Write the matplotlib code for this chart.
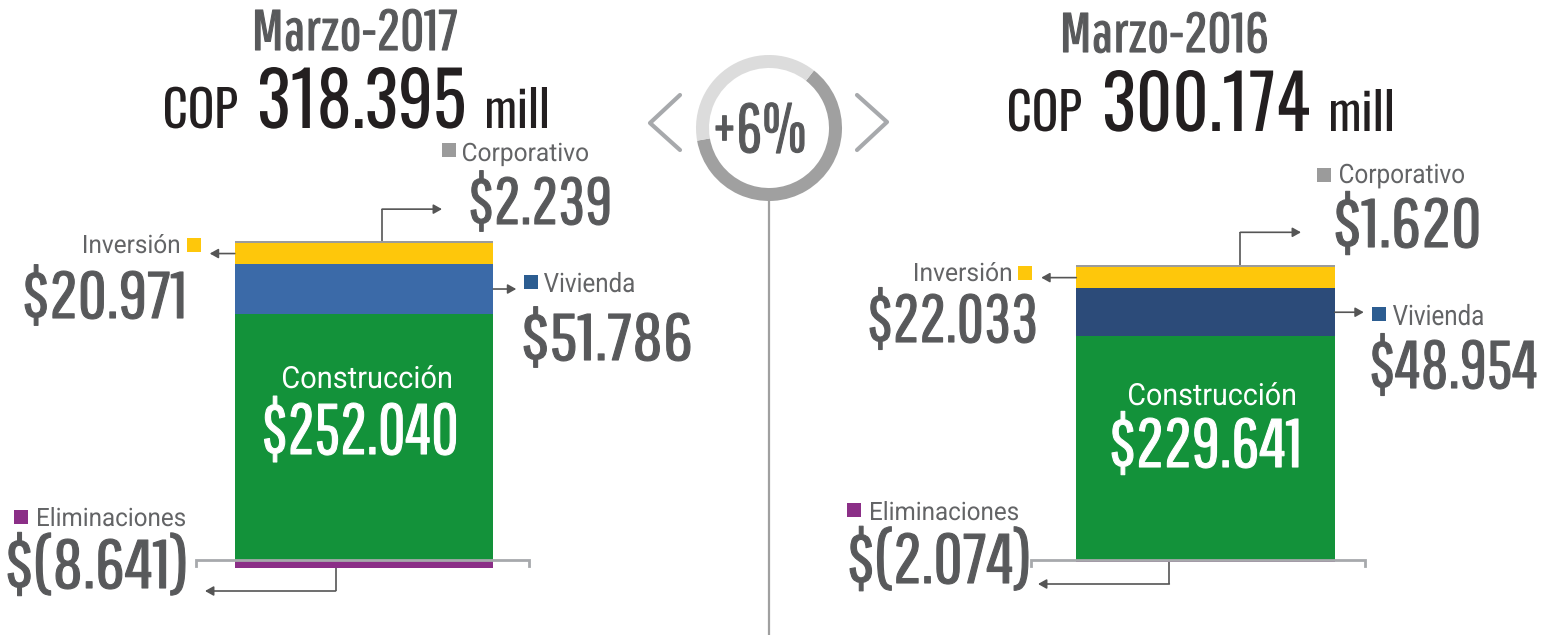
import matplotlib
matplotlib.use('Agg')
import matplotlib.pyplot as plt
from matplotlib.patches import Rectangle, Wedge
from matplotlib.patheffects import AbstractPathEffect
from matplotlib.transforms import Affine2D, Bbox
from matplotlib.text import Text
from matplotlib.textpath import TextPath
from matplotlib.font_manager import FontProperties

# ---------------- data ----------------
periods = ['Marzo-2017', 'Marzo-2016']
totals = [318.395, 300.174]
change_label = '+6%'
segments = ['Construcción', 'Vivienda', 'Inversión', 'Corporativo']
values_2017 = [252.040, 51.786, 20.971, 2.239]
values_2016 = [229.641, 48.954, 22.033, 1.620]
elim_label = 'Eliminaciones'
elim_values = [-8.641, -2.074]
currency = 'COP'
unit = 'mill'

values = [values_2017, values_2016]
seg_colors = [['#13923a', '#3b6aa8', '#fec70b', '#9b9b9b'],
              ['#13923a', '#2c4b79', '#fec70b', '#9b9b9b']]
legend_colors = {'Vivienda': '#2c5d91', 'Inversión': '#fec70b',
                 'Corporativo': '#9b9b9b', 'Eliminaciones': '#8b2f87'}
elim_color = '#8b2f87'

C_TITLE = '#58595b'
C_TOTAL = '#231f20'
C_VAL = '#58595b'
C_LBL = '#636466'
C_LINE = '#555555'
C_GREY = '#a7a9ac'
F_NUM = ['Pathway Gothic One', 'Roboto']
F_TOT = ['Oswald', 'Roboto']
F_LBL = ['Roboto']


def money(v):
    s = f'{abs(v):.3f}'
    return f'$({s})' if v < 0 else f'${s}'


class Squeeze(AbstractPathEffect):
    """Horizontally scale glyphs about the ink's left edge (optionally embolden)."""
    def __init__(self, sx, stroke=0.0):
        super().__init__()
        self.sx = sx
        self.stroke = stroke

    def draw_path(self, renderer, gc, tpath, affine, rgbFace=None):
        a = tpath.get_extents().x0
        pre = Affine2D().translate(-a, 0).scale(self.sx, 1).translate(a, 0)
        if self.stroke > 0 and rgbFace is not None:
            gc0 = renderer.new_gc()
            gc0.copy_properties(gc)
            gc0.set_linewidth(self.stroke)
            gc0.set_foreground(rgbFace)
            gc0.set_joinstyle('round')
            renderer.draw_path(gc0, tpath, pre + affine, rgbFace)
            gc0.restore()
        else:
            renderer.draw_path(gc, tpath, pre + affine, rgbFace)


class CondensedText(Text):
    """Text whose reported extent matches its scaled rendering."""
    def get_window_extent(self, renderer=None, dpi=None):
        bb = super().get_window_extent(renderer, dpi)
        sx = getattr(self, '_sx', 1.0)
        a = bb.x0
        return Bbox([[a, bb.y0], [a + (bb.x1 - a) * sx, bb.y1]])


W, H = 1554, 635
fig = plt.figure(figsize=(W / 100, H / 100), dpi=100)
fig.patch.set_facecolor('white')

# bar axes (data units)
PX_PER_UNIT = 0.975
BASE_PX = 75  # baseline distance from bottom in px
bar_centers_px = [364, 1205.5]
spacing = bar_centers_px[1] - bar_centers_px[0]
bar_w = 258.5 / spacing
ax = fig.add_axes([0, 0, 1, 1])
ax.set_xlim(-bar_centers_px[0] / spacing, (W - bar_centers_px[0]) / spacing)
ax.set_ylim(-BASE_PX / PX_PER_UNIT, (H - BASE_PX) / PX_PER_UNIT)
ax.axis('off')

xpos = [0, 1]
for i, vals in enumerate(values):
    bottom = 0.0
    for j, v in enumerate(vals):
        ax.bar(xpos[i], v, bottom=bottom, width=bar_w, color=seg_colors[i][j],
               edgecolor='none', linewidth=0)
        bottom += v
    ax.bar(xpos[i], elim_values[i], bottom=0, width=bar_w, color=elim_color,
           edgecolor='none', linewidth=0)

# overlay axes in pixel units (origin top-left)
ov = fig.add_axes([0, 0, 1, 1], zorder=5)
ov.set_xlim(0, W)
ov.set_ylim(H, 0)
ov.axis('off')
ov.patch.set_alpha(0)


def to_px(x, y):
    return ov.transData.inverted().transform(ax.transData.transform((x, y)))


def fit(x, base, h, w, s, color, ha='left', family=F_NUM, weight='normal', ref='0',
        stroke=None):
    """Place text s so its ink spans width w (px) and its reference glyph is h px tall."""
    if stroke is None:
        stroke = 0.8 if family is F_NUM else 0.0
    prop = FontProperties(family=family, weight=weight)
    ref_h = TextPath((0, 0), ref, size=1, prop=prop).get_extents().y1
    size_px = h / ref_h
    ext = TextPath((0, 0), s, size=1, prop=prop).get_extents()
    sx = w / (ext.width * size_px)
    if ha == 'left':
        ink_left = x
    elif ha == 'right':
        ink_left = x - w
    else:
        ink_left = x - w / 2
    t = ov.text(ink_left - ext.x0 * size_px, base, s, color=color, ha='left',
                va='baseline', fontproperties=prop, parse_math=False)
    t.set_fontsize(size_px * 0.72)
    t.__class__ = CondensedText
    t._sx = sx
    t.set_path_effects([Squeeze(sx, stroke)])
    return t


def square(x, y, color, s=14):
    ov.add_patch(Rectangle((x, y), s, s, color=color, lw=0))


def arrow(p_from, p_to):
    ov.annotate('', xy=p_to, xytext=p_from,
                arrowprops=dict(arrowstyle='-|>,head_length=0.5,head_width=0.28',
                                color=C_LINE, lw=1.2, shrinkA=0, shrinkB=0,
                                mutation_scale=10))


def seg(p, q, color=C_LINE, lw=1.2):
    ov.plot([p[0], q[0]], [p[1], q[1]], color=color, lw=lw, solid_capstyle='butt')


# text boxes: (anchor x, baseline, glyph height, ink width)
layout = [
    dict(title=(356, 50, 40, 201), cop=(165, 128, 41, 72), num=(260, 128, 61, 204),
         mill=(487, 128, 41, 60),
         corp_sq=(442, 143), corp_lbl=(463, 161, 18, 125), corp_val=(471, 224, 47, 138),
         corp_frac=0.57, corp_rise=32, corp_end=442,
         inv_lbl=(179, 253, 18, 95), inv_sq=(187, 238), inv_len=25, inv_val=(183, 318, 47, 158),
         viv_len=23, viv_sq=(524, 275), viv_lbl=(544, 292, 19, 90), viv_val=(524, 360, 47, 166),
         cons_lbl=(367, 388, 22, 168), cons_val=(360, 454, 51, 191),
         elim_sq=(14, 510), elim_lbl=(38, 526, 18, 147), elim_val=(8, 588, 49, 177),
         elim_frac=0.39, elim_drop=591, elim_end=205, brk=(39, 36)),
    dict(title=(1165, 52, 39, 203), cop=(1009, 131, 42, 72), num=(1105, 131, 61, 204),
         mill=(1331, 131, 42, 61),
         corp_sq=(1317, 168), corp_lbl=(1340, 183, 19, 124), corp_val=(1336, 247, 49, 142),
         corp_frac=0.635, corp_rise=33, corp_end=1301,
         inv_lbl=(1011, 281, 18, 96), inv_sq=(1018, 266), inv_len=35, inv_val=(1035, 342, 48, 165),
         viv_len=29, viv_sq=(1372, 307), viv_lbl=(1393, 325, 20, 90), viv_val=(1372, 388, 48, 164),
         cons_lbl=(1212, 405, 22, 166), cons_val=(1205, 467, 49, 186),
         elim_sq=(847, 503), elim_lbl=(871, 520, 18, 147), elim_val=(850, 583, 50, 178),
         elim_frac=0.36, elim_drop=584, elim_end=1038, brk=(45, 30)),
]

for i, L in enumerate(layout):
    vals = values[i]
    x0 = xpos[i] - bar_w / 2
    x1 = xpos[i] + bar_w / 2
    top = sum(vals)

    # titles
    fit(*L['title'], periods[i], C_TITLE, ha='center', ref='H')
    fit(*L['cop'], currency, C_TOTAL, family=F_TOT, ref='H')
    fit(*L['num'], f'{totals[i]:.3f}', C_TOTAL, family=F_TOT, weight='bold')
    fit(*L['mill'], unit, C_TOTAL, family=F_TOT, ref='l')

    # Corporativo
    p = to_px(x0 + L['corp_frac'] * bar_w, top)
    corner = (p[0], p[1] - L['corp_rise'])
    seg(p, corner)
    arrow(corner, (L['corp_end'], corner[1]))
    square(*L['corp_sq'], legend_colors['Corporativo'])
    fit(*L['corp_lbl'], segments[3], C_LBL, family=F_LBL, ref='H')
    fit(*L['corp_val'], money(vals[3]), C_VAL)

    # Inversión
    inv_mid = vals[0] + vals[1] + vals[2] / 2
    p = to_px(x0, inv_mid)
    arrow(p, (p[0] - L['inv_len'], p[1]))
    square(*L['inv_sq'], legend_colors['Inversión'])
    fit(*L['inv_lbl'], segments[2], C_LBL, ha='right', family=F_LBL, ref='I')
    fit(*L['inv_val'], money(vals[2]), C_VAL, ha='right')

    # Vivienda
    viv_mid = vals[0] + vals[1] / 2
    p = to_px(x1, viv_mid)
    arrow(p, (p[0] + L['viv_len'], p[1]))
    square(*L['viv_sq'], legend_colors['Vivienda'])
    fit(*L['viv_lbl'], segments[1], C_LBL, family=F_LBL, ref='V')
    fit(*L['viv_val'], money(vals[1]), C_VAL)

    # Construcción (inside bar)
    fit(*L['cons_lbl'], segments[0], 'white', ha='center', family=F_LBL, ref='C')
    fit(*L['cons_val'], money(vals[0]), 'white', ha='center')

    # Eliminaciones
    p = to_px(x0 + L['elim_frac'] * bar_w, elim_values[i])
    corner = (p[0], L['elim_drop'])
    seg(p, corner)
    arrow(corner, (L['elim_end'], corner[1]))
    square(*L['elim_sq'], legend_colors['Eliminaciones'])
    fit(*L['elim_lbl'], elim_label, C_LBL, family=F_LBL, ref='E')
    fit(*L['elim_val'], money(elim_values[i]), C_VAL)

    # baseline bracket
    bl = to_px(x0, 0)
    br = to_px(x1, 0)
    xa = bl[0] - L['brk'][0]
    xb = br[0] + L['brk'][1]
    yb = bl[1]
    ov.plot([xa, xa, xb, xb], [yb + 6, yb, yb, yb + 6], color=C_GREY, lw=2.0,
            solid_joinstyle='miter', zorder=6)

# centre ring with growth label
cx, cy, r = 769, 128, 73
ov.add_patch(Wedge((cx, cy), r, -52, 170, width=13, color='#a0a0a0', lw=0))
ov.add_patch(Wedge((cx, cy), r, 170, 308, width=13, color='#dcdcdc', lw=0))
ov.plot([cx, cx], [cy + r, H], color='#a0a0a0', lw=1.6)
fit(760, 152, 49, 88, change_label, C_TITLE, ha='center', ref='6')
ov.plot([680, 650, 680], [95, 123, 150], color=C_GREY, lw=3.0,
        solid_capstyle='round', solid_joinstyle='round')
ov.plot([857, 887, 857], [95, 122, 150], color=C_GREY, lw=3.0,
        solid_capstyle='round', solid_joinstyle='round')

fig.savefig('out.png', dpi=100, facecolor='white')
